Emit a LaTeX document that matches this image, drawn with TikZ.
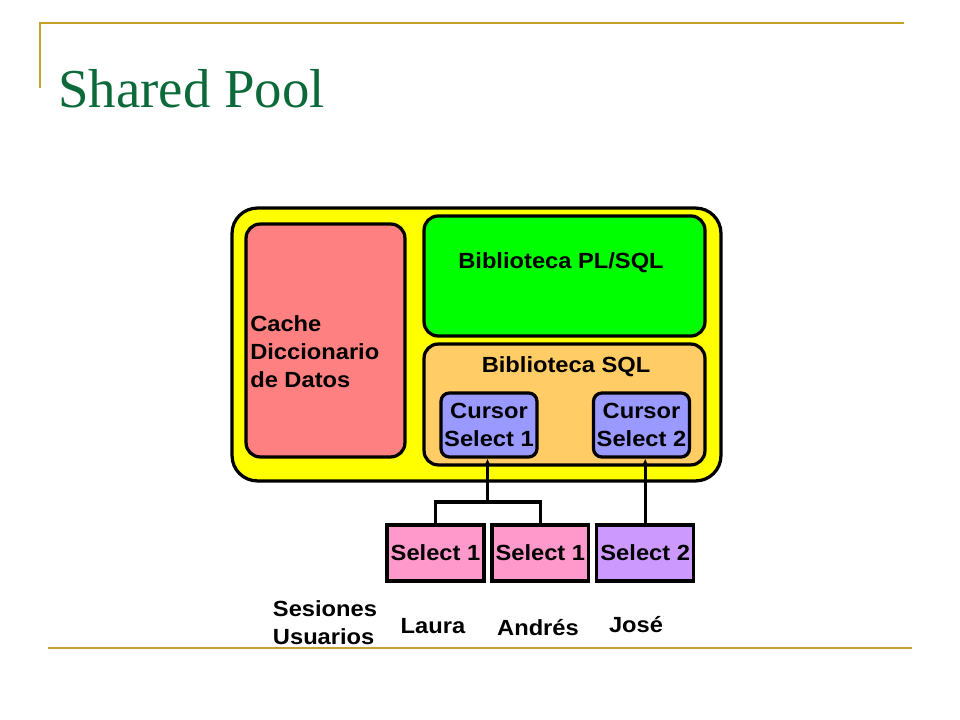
\documentclass[tikz,border=0pt]{standalone}
\usepackage{fontspec}
\setmainfont[FakeStretch=1.08]{Liberation Sans}
\newfontfamily\titlefont{Liberation Serif}
\usepackage{tikz}
\usetikzlibrary{positioning, arrows.meta}

\definecolor{rulegold}{RGB}{196,160,40}
\definecolor{titlegreen}{RGB}{12,106,58}
\definecolor{poolyellow}{RGB}{255,255,0}
\definecolor{cachered}{RGB}{255,128,128}
\definecolor{plsqlgreen}{RGB}{0,255,0}
\definecolor{sqlorange}{RGB}{255,204,102}
\definecolor{cursorblue}{RGB}{153,153,255}
\definecolor{sesspink}{RGB}{255,153,204}
\definecolor{sesspurple}{RGB}{204,153,255}

\begin{document}
\begin{tikzpicture}[x=0.025cm, y=-0.025cm,
  every node/.style={font=\fontsize{15.6}{20}\selectfont\bfseries, inner sep=0pt},
  area/.style={draw, line width=2.3pt, rounded corners=10pt},
  cursor node/.style={area, rounded corners=6pt, fill=cursorblue, align=center,
    minimum width=2.4cm, minimum height=1.6cm},
  session node/.style={draw, line width=2.3pt, minimum width=2.42cm, minimum height=1.4cm},
  rule line/.style={draw=rulegold, line width=2pt},
  link/.style={line width=2.2pt},
  arr/.style={link, -{Latex[length=5pt, width=5pt]}}]

\useasboundingbox (0,0) rectangle (960,720);

% slide frame
\draw[rule line] (40,88) -- (40,23) -- (904,23);
\draw[rule line] (48,648) -- (912,648);
\node[anchor=base west, text=titlegreen, font=\titlefont\fontsize{39}{39}\selectfont] (title) at (58,108) {Shared Pool};

% shared pool
\node[area, rounded corners=18pt, fill=poolyellow, minimum width=12.22cm, minimum height=6.82cm] (pool) at (476.5,344.5) {};
\node[area, fill=cachered, minimum width=3.97cm, minimum height=5.82cm] (cache) at (325.5,340.5) {};
\node[area, fill=plsqlgreen, minimum width=7.02cm, minimum height=3cm] (plsql) at (564.5,276) {};
\node[area, fill=sqlorange, minimum width=7.02cm, minimum height=3.02cm] (sqllib) at (564.5,404.5) {};

\node[anchor=west, align=left] (cachelbl) at (250,352) {Cache\\Diccionario\\de Datos};
\node (plsqllbl) at (561,263) {Biblioteca PL/SQL};
\node (sqllbl) at (566,367) {Biblioteca SQL};

\node[cursor node] (cur1) at (489,425) {Cursor\\Select 1};
\node[cursor node] (cur2) at (641.5,425) {Cursor\\Select 2};

% sesiones
\node[session node, fill=sesspink] (sel1a) at (435.5,553) {Select 1};
\node[session node, fill=sesspink] (sel1b) [right=0.12cm of sel1a] {Select 1};
\node[session node, fill=sesspurple] (sel2) [right=0.12cm of sel1b] {Select 2};

\node[align=left] (sesslbl) at (325,623) {Sesiones\\Usuarios};
\node (laura) at (433,626) {Laura};
\node (andres) at (538,628) {Andrés};
\node (jose) at (636,625) {José};

\coordinate (join) at (487.5,502);
\draw[link] (sel1a.north) |- (join) -| (sel1b.north);
\draw[arr] (join) -- (join |- cur1.south);
\draw[arr] (sel2.north) -- (sel2.north |- cur2.south);
\end{tikzpicture}
\end{document}
